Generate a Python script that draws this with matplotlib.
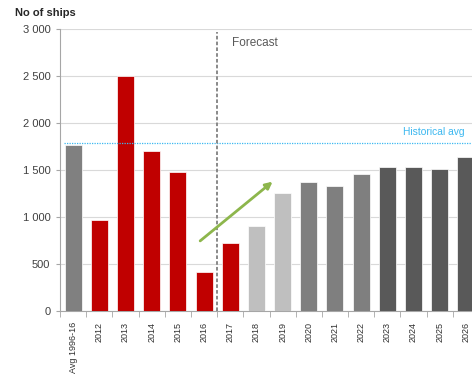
import matplotlib.pyplot as plt

# Ship deliveries: history (red), forecast (greys)
categories = ['Avg 1996-16', '2012', '2013', '2014', '2015', '2016', '2017',
              '2018', '2019', '2020', '2021', '2022', '2023', '2024', '2025', '2026']
ships = [1770, 965, 2505, 1700, 1475, 410, 720,
         900, 1255, 1375, 1330, 1460, 1530, 1530, 1515, 1635]
bar_colors = ['#808080'] + ['#C00000'] * 6 + ['#BFBFBF'] * 2 + ['#7F7F7F'] * 3 + ['#595959'] * 4
historical_avg = 1790
yticks = [0, 500, 1000, 1500, 2000, 2500, 3000]
ytick_labels = ['0', '500', '1 000', '1 500', '2 000', '2 500', '3 000']

plt.rcParams['font.family'] = ['Liberation Sans', 'DejaVu Sans']

fig = plt.figure(figsize=(4.72, 3.75), dpi=100)
# axes run a little past the right edge, so the last bar is cut off
ax = fig.add_axes([60 / 472, 64 / 375, 419 / 472, 282 / 375])

x = range(len(categories))
ax.bar(x, ships, width=0.65, color=bar_colors, edgecolor='white', linewidth=0.5, zorder=3)

ax.set_xlim(-0.5, len(categories) - 0.5)
ax.set_ylim(0, 3000)
ax.set_yticks(yticks)
ax.set_yticklabels(ytick_labels, fontsize=8, color='#404040')
ax.set_xticks(list(x))
ax.set_xticklabels(categories, rotation=90, fontsize=6.5, color='#303030')
ax.tick_params(axis='x', length=0, pad=8)
ax.tick_params(axis='y', length=3, color='#A6A6A6', pad=4)

# tick marks between categories on the x axis
ax.set_xticks([i + 0.5 for i in range(-1, len(categories))], minor=True)
ax.tick_params(axis='x', which='minor', length=4, color='#A6A6A6')

ax.grid(axis='y', color='#D9D9D9', linewidth=0.8, zorder=0)
for side in ['top', 'right']:
    ax.spines[side].set_visible(False)
for side in ['left', 'bottom']:
    ax.spines[side].set_color('#A6A6A6')
    ax.spines[side].set_linewidth(0.8)

# historical average line
ax.plot([-0.35, len(categories) - 0.5], [historical_avg, historical_avg],
        color='#3CB8F0', linestyle=(0, (1, 1)), linewidth=0.9, zorder=4)
ax.text(12.6, 1905, 'Historical avg', fontsize=7.4, color='#3CB8F0', va='center', ha='left')

# start of the forecast period
ax.plot([5.5, 5.5], [0, 2970], color='#808080', linestyle=(0, (2, 1.2)), linewidth=1.3, zorder=4)
ax.text(6.05, 2850, 'Forecast', fontsize=8.5, color='#595959', va='center', ha='left')

# recovery trend arrow
ax.annotate('', xy=(7.7, 1395), xytext=(4.77, 727),
            arrowprops=dict(arrowstyle='-|>', color='#8DB64C', lw=2, mutation_scale=10),
            zorder=5)

fig.text(15 / 472, 1 - 13 / 375, 'No of ships', fontsize=8, fontweight='bold',
         color='#262626', va='center', ha='left')

fig.savefig('out.png', dpi=100)
